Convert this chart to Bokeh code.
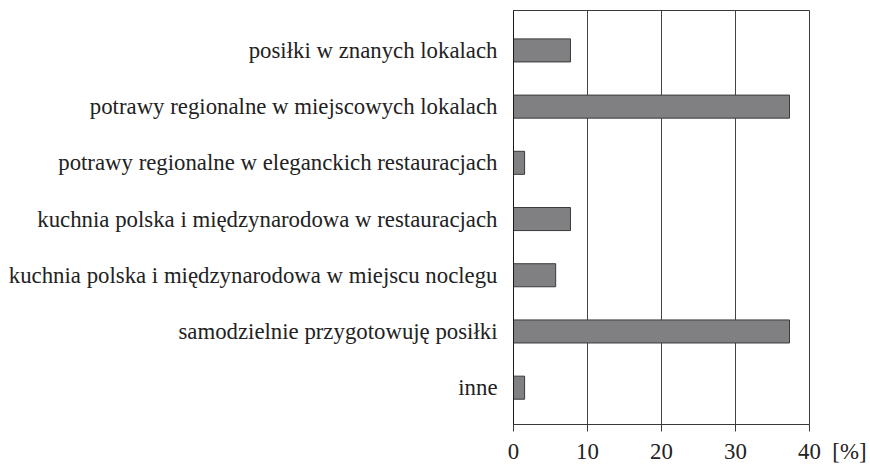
from bokeh.plotting import figure
from bokeh.models import Range1d, FixedTicker, ColumnDataSource
from bokeh.embed import file_html
from bokeh.resources import INLINE

categories = [
    "posiłki w znanych lokalach",
    "potrawy regionalne w miejscowych lokalach",
    "potrawy regionalne w eleganckich restauracjach",
    "kuchnia polska i międzynarodowa w restauracjach",
    "kuchnia polska i międzynarodowa w miejscu noclegu",
    "samodzielnie przygotowuję posiłki",
    "inne",
]
values = [7.7, 37.3, 1.5, 7.7, 5.7, 37.3, 1.5]
x_ticks = [0, 10, 20, 30, 40]
unit_label = "[%]"

FONT = "Liberation Serif"
FS = "22.8px"
n = len(categories)
ypos = [n - 1 - i for i in range(n)]
src = ColumnDataSource(dict(y=ypos, v=values, cat=categories))

p = figure(width=870, height=466, output_backend="svg", toolbar_location=None,
           x_range=Range1d(0, 40), y_range=Range1d(-0.655, n - 1 + 0.71),
           min_border_left=513, min_border_right=61, min_border_top=10,
           min_border_bottom=40)

p.hbar(y="y", right="v", left=0, height=0.41, source=src,
       fill_color="#808083", line_color="#3a3a3a", line_width=1)

p.outline_line_color = "#3a3a3a"
p.outline_line_width = 1
p.background_fill_color = "white"
p.border_fill_color = "white"

p.ygrid.visible = False
p.xgrid.ticker = FixedTicker(ticks=x_ticks)
p.xgrid.grid_line_color = "#444444"
p.xgrid.grid_line_width = 1

# the unit sits on the same line as the last tick label, to its right
pad = "\u2002"
overrides = {t: str(t) for t in x_ticks}
overrides[x_ticks[-1]] = pad * 4 + str(x_ticks[-1]) + pad + unit_label

p.xaxis.ticker = FixedTicker(ticks=x_ticks)
p.xaxis.major_label_overrides = overrides
p.xaxis.axis_line_color = "#3a3a3a"
p.xaxis.major_tick_line_color = "#3a3a3a"
p.xaxis.major_tick_out = 7
p.xaxis.major_tick_in = 0
p.xaxis.minor_tick_line_color = None
p.xaxis.major_label_standoff = 7
p.xaxis.major_label_text_font = FONT
p.xaxis.major_label_text_font_size = FS
p.xaxis.major_label_text_color = "#222222"

p.yaxis.ticker = FixedTicker(ticks=ypos)
p.yaxis.major_label_overrides = {y: c for y, c in zip(ypos, categories)}
p.yaxis.axis_line_color = "#1a1a1a"
p.yaxis.major_tick_line_color = None
p.yaxis.minor_tick_line_color = None
p.yaxis.major_tick_out = 0
p.yaxis.major_tick_in = 0
p.yaxis.major_label_standoff = 16
p.yaxis.major_label_text_font = FONT
p.yaxis.major_label_text_font_size = FS
p.yaxis.major_label_text_color = "#222222"

open("out.html", "w").write(file_html(p, INLINE))
